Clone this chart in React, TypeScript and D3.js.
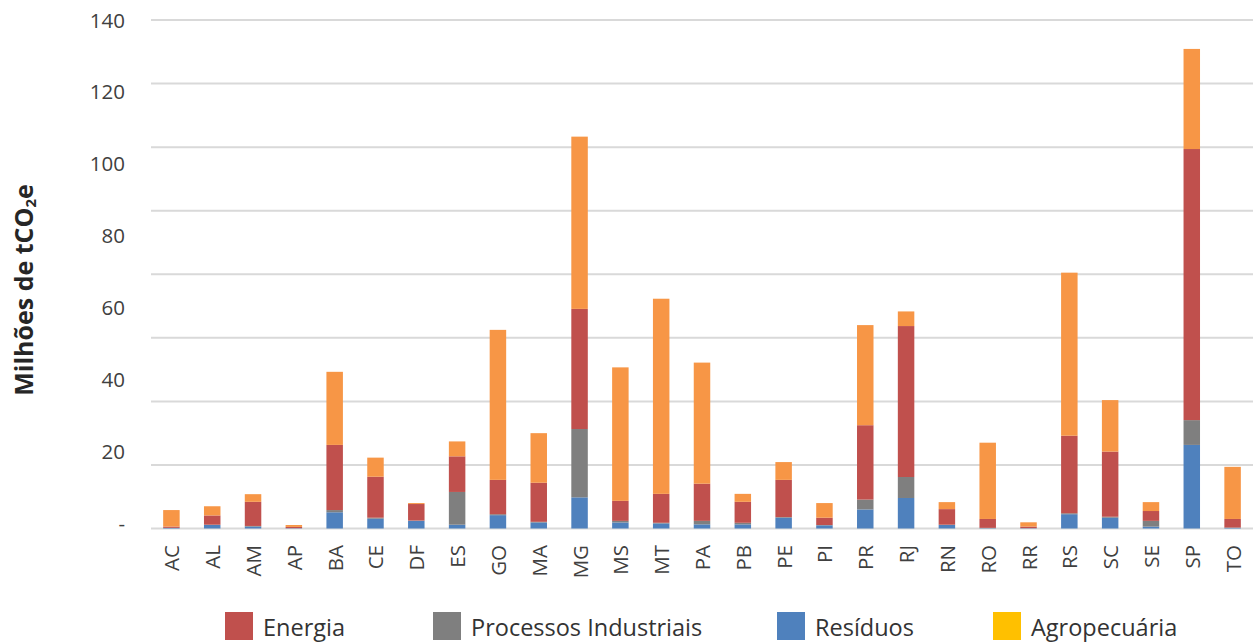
import React from "react";
import * as d3 from "d3";

const categories = ["AC","AL","AM","AP","BA","CE","DF","ES","GO","MA","MG","MS","MT","PA","PB","PE","PI","PR","RJ","RN","RO","RR","RS","SC","SE","SP","TO"];
const residuos = [0.2,1.1,0.6,0.1,5.1,3.1,2.4,1.2,4.2,1.9,9.8,1.9,1.6,1.3,1.3,3.4,1.0,6.0,9.6,1.1,0.1,0.1,4.5,3.4,0.6,26.3,0.2];
const processos = [0,0.1,0.2,0,0.7,0.3,0.1,10.3,0.3,0.2,21.5,0.5,0.2,1.1,0.5,0.2,0.1,3.1,6.6,0.1,0.1,0,0.3,0.3,1.8,7.8,0.1];
const energia = [0.4,2.9,7.6,0.4,20.5,12.9,5.2,11.2,10.8,12.3,37.8,6.3,9.1,11.7,6.6,11.7,2.3,23.4,47.5,4.9,2.8,0.5,24.4,20.5,3.1,85.3,2.7];
const agropecuaria = [5.2,2.9,2.4,0.6,23.0,6.0,0.3,4.7,47.2,15.6,54.2,42.0,61.4,38.1,2.5,5.6,4.6,31.5,4.6,2.2,24.0,1.35,51.3,16.2,2.8,31.5,16.4];

const gridValues = [0,20,40,60,80,100,120,140,160];
const tickValues = [0,20,40,60,80,100,120,140];
const tickLabels = ["-","20","40","60","80","100","120","140"];

const seriesKeys = ["residuos","processos","energia","agropecuaria"];
const barColors: Record<string,string> = {
  residuos: "#4F81BD",
  processos: "#7F7F7F",
  energia: "#C0504D",
  agropecuaria: "#F79646",
};
const legendNames = ["Energia","Processos Industriais","Resíduos","Agropecuária"];
const legendColors = ["#C0504D","#7F7F7F","#4F81BD","#FFC000"];
const legendX = [225, 433, 777, 993];

export default function App() {
  const W = 1253, H = 642;
  const rows = categories.map((c, i) => ({
    cat: c,
    residuos: residuos[i],
    processos: processos[i],
    energia: energia[i],
    agropecuaria: agropecuaria[i],
  }));
  const stack = d3.stack<any>().keys(seriesKeys)(rows);
  const x = d3.scaleBand<string>().domain(categories).range([151, 1253]).paddingInner(0.596).paddingOuter(0.298);
  const y = d3.scaleLinear().domain([0, 160]).range([528.5, 20]);
  const yLabel = d3.scaleLinear().domain([0, 140]).range([523, 19.5]);
  const font = "'Open Sans', 'Noto Sans', sans-serif";

  return (
    <div style={{ position: "absolute", left: 0, top: 0 }}>
      <svg width={W} height={H} style={{ display: "block", fontFamily: font }}>
        <rect width={W} height={H} fill="#fff" />
        {gridValues.map((v) => (
          <line key={v} x1={151} x2={1253} y1={y(v)} y2={y(v)} stroke="#D9D9D9" strokeWidth={2} />
        ))}
        {tickValues.map((v, i) => (
          <text key={v} x={125} y={yLabel(v)} textAnchor="end" dominantBaseline="central" fontSize={20.5} fill="#404040">
            {tickLabels[i]}
          </text>
        ))}
        <text transform="translate(23,290) rotate(-90)" textAnchor="middle" dominantBaseline="central" fontSize={25} fontWeight="bold" fill="#262626">
          Milhões de tCO<tspan fontSize={15} dy={7}>2</tspan><tspan dy={-7}>e</tspan>
        </text>
        {stack.map((s) => (
          <g key={s.key} fill={barColors[s.key]}>
            {s.map((d, i) => (
              <rect key={i} x={x(categories[i])} width={x.bandwidth()} y={y(d[1])} height={Math.max(0, y(d[0]) - y(d[1]))} />
            ))}
          </g>
        ))}
        {categories.map((c) => (
          <text key={c} transform={`translate(${(x(c) as number) + x.bandwidth() / 2},545) rotate(-90)`} textAnchor="end" dominantBaseline="central" fontSize={20.5} fill="#404040">
            {c}
          </text>
        ))}
        {legendNames.map((n, i) => (
          <g key={n}>
            <rect x={legendX[i]} y={612} width={28} height={28} fill={legendColors[i]} />
            <text x={legendX[i] + 38} y={636} fontSize={23.5} fill="#333">{n}</text>
          </g>
        ))}
      </svg>
    </div>
  );
}
